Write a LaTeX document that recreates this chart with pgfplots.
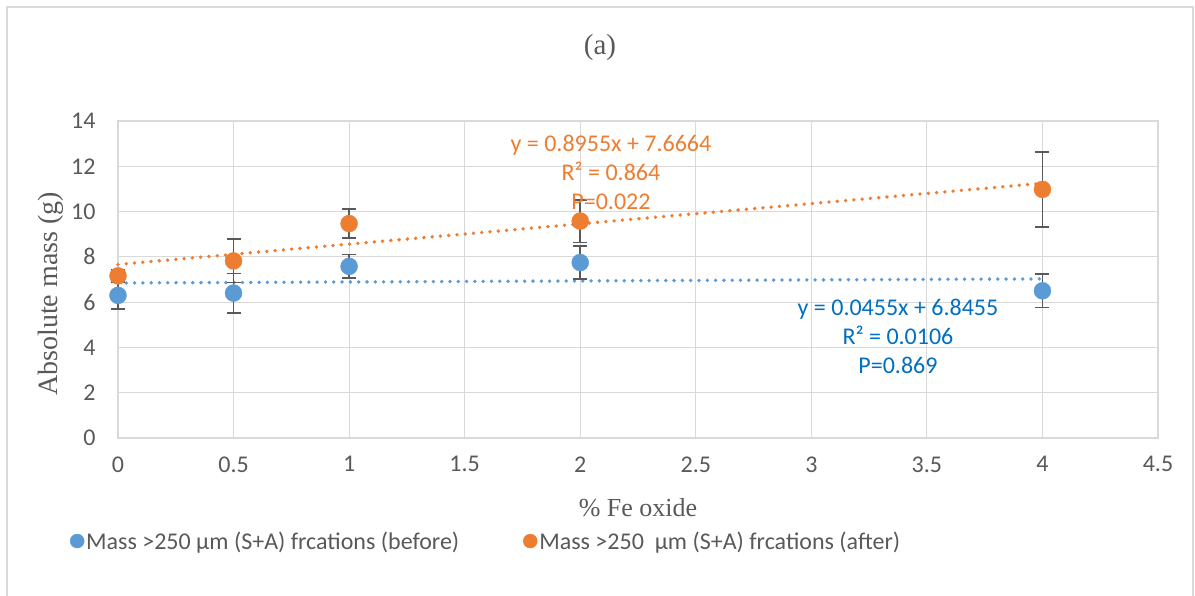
\documentclass[border=0pt]{standalone}
\usepackage{pgfplots}
\pgfplotsset{compat=1.18}
\usepackage{fontspec}
\setmainfont{Liberation Serif}
\newfontfamily\carl{Carlito}
\definecolor{cblue}{HTML}{5B9BD5}
\definecolor{corange}{HTML}{ED7D31}
\definecolor{tblue}{HTML}{0070C0}
\definecolor{gtxt}{HTML}{595959}
\definecolor{gridc}{HTML}{D9D9D9}
\begin{document}
\begin{tikzpicture}[x=1pt,y=1pt]
\draw[gridc, line width=1.3pt] (7,-5) -- (7,588) -- (1193,588) -- (1193,-5);
\begin{axis}[
  at={(118pt,157pt)}, anchor=south west, scale only axis,
  width=1040pt, height=317pt,
  xmin=0, xmax=4.5, ymin=0, ymax=14,
  xtick={0,0.5,...,4.5}, ytick={0,2,...,14},
  grid=major, grid style={gridc, line width=1.2pt},
  axis line style={gridc, line width=1.2pt},
  tick style={draw=none},
  ticklabel style={font=\carl\fontsize{24}{28}\selectfont, text=gtxt},
  /pgf/number format/assume math mode=true,
  /pgf/number format/fixed,
  xticklabel style={yshift=-15pt},
  yticklabel style={xshift=-19pt},
  clip=false,
  legend columns=2,
  legend style={draw=none, fill=none, font=\carl\fontsize{24}{28}\selectfont, text=gtxt,
    at={(0.354,-0.325)}, anchor=center,
    /tikz/every even column/.append style={column sep=62pt}},
  legend cell align=left,
]
\addplot[corange, line width=3.8pt, dash pattern=on 0pt off 8.3pt, line cap=round, forget plot]
  coordinates {(0,7.6664) (4,11.2484)};
\addplot[cblue, line width=3.8pt, dash pattern=on 0pt off 8.3pt, line cap=round, forget plot]
  coordinates {(0,6.8455) (4,7.0275)};
\addplot[only marks, mark=*, mark size=8.5pt, color=cblue, mark options={fill=cblue, draw=cblue},
  legend image post style={mark size=7pt},
  error bars/.cd, y dir=both, y explicit,
  error bar style={gtxt, line width=1.6pt},
  error mark options={rotate=90, mark size=7pt, gtxt, line width=1.6pt}]
  coordinates {
  (0,6.30) +- (0,0.60)
  (0.5,6.40) +- (0,0.87)
  (1,7.58) +- (0,0.52)
  (2,7.75) +- (0,0.73)
  (4,6.50) +- (0,0.73)
  };
\addlegendentry{Mass >250 µm (S+A) frcations (before)}
\addplot[only marks, mark=*, mark size=8.5pt, color=corange, mark options={fill=corange, draw=corange},
  legend image post style={mark size=7pt},
  error bars/.cd, y dir=both, y explicit,
  error bar style={gtxt, line width=1.6pt},
  error mark options={rotate=90, mark size=7pt, gtxt, line width=1.6pt}]
  coordinates {
  (0,7.16) +- (0,0.25)
  (0.5,7.82) +- (0,0.96)
  (1,9.47) +- (0,0.64)
  (2,9.58) +- (0,0.94)
  (4,10.98) +- (0,1.65)
  };
\addlegendentry{Mass >250\ \ µm (S+A) frcations (after)}
\node[align=center, text=corange, font=\carl\fontsize{24}{29}\selectfont] at (axis cs:2.133,11.75)
  {y = 0.8955x + 7.6664\\R² = 0.864\\P=0.022};
\node[align=center, text=tblue, font=\carl\fontsize{24}{29}\selectfont] at (axis cs:3.375,4.505)
  {y = 0.0455x + 6.8455\\R² = 0.0106\\P=0.869};
\end{axis}
\node[text=gtxt, font=\fontsize{29}{32}\selectfont] at (600,547) {(a)};
\node[rotate=90, text=gtxt, font=\fontsize{28}{32}\selectfont] at (51,301) {Absolute mass (g)};
\node[text=gtxt, font=\fontsize{26}{30}\selectfont] at (638,87) {\% Fe oxide};
\pgfresetboundingbox
\path[use as bounding box] (0,0) rectangle (1195,595);
\end{tikzpicture}
\end{document}
